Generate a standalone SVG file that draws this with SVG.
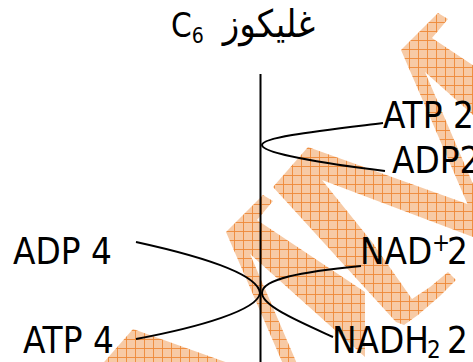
<svg xmlns="http://www.w3.org/2000/svg" xmlns:xlink="http://www.w3.org/1999/xlink" width="473" height="362" viewBox="0 0 473 362">
  <defs>
    <pattern id="hatch" patternUnits="userSpaceOnUse" x="4" y="4" width="9" height="9">
      <rect width="9" height="9" fill="#F7CAA5"/>
      <path d="M0.5 0V9M0 0.5H9" stroke="#EE8837" stroke-width="0.9" fill="none"/>
    </pattern>
    <g id="wm-unit">
      <polygon points="438,13 448,19 432,38 540,110 540,175 425,72 497,240 483,240 401,50"/>
      <polygon points="308,147 560,237 560,270 322,180 372,242 412,299 430,287 448,272 456,280 440,296 418,315 404,325 396,322 273,187"/>
    </g>
  </defs>
  <style>
    .lbl { font-family: "DejaVu Sans Condensed", "DejaVu Sans", sans-serif; font-stretch: condensed; font-size: 36.5px; fill: #000; }
    .ttl { font-family: "DejaVu Sans Condensed", "DejaVu Sans", sans-serif; font-stretch: condensed; font-size: 33px; fill: #000; }
    .ln { fill: none; stroke: #000; stroke-width: 2; }
  </style>
  <rect width="473" height="362" fill="#fff"/>
  <g id="watermark" fill="url(#hatch)">
    <use xlink:href="#wm-unit" href="#wm-unit"/>
    <use xlink:href="#wm-unit" href="#wm-unit" transform="translate(-175,182)"/>
  </g>
  <g id="connectors">
    <line class="ln" x1="260.5" y1="74" x2="260.5" y2="362" stroke-width="1.8"/>
    <path class="ln" d="M383,123 C318,131 262,137 262,145 C262,153 320,163 385,171"/>
    <path class="ln" d="M136,242 C200,256 258,274 260,293 C258,310 200,327 136,339"/>
    <path class="ln" d="M361,266 C300,272 262,279 262,293 C262,306 300,322 333,337"/>
  </g>
  <g id="title">
    <text class="ttl" x="171" y="37">C<tspan font-size="21" dy="6">6</tspan><tspan dy="-6" dx="8" font-size="38"> غليكوز</tspan></text>
  </g>
  <g id="atp2"><text class="lbl" x="383" y="128">ATP 2</text></g>
  <g id="adp2"><text class="lbl" x="392" y="173">ADP2</text></g>
  <g id="adp4"><text class="lbl" x="13" y="264">ADP 4</text></g>
  <g id="atp4"><text class="lbl" x="23" y="353">ATP 4</text></g>
  <g id="nad"><text class="lbl" x="360" y="264">NAD<tspan x="432" font-size="24" dy="-13">+</tspan><tspan x="447" dy="13">2</tspan></text></g>
  <g id="nadh2"><text class="lbl" x="332" y="353">NADH<tspan x="427" font-size="24" dy="5">2</tspan><tspan x="447" dy="-5">2</tspan></text></g>
</svg>
